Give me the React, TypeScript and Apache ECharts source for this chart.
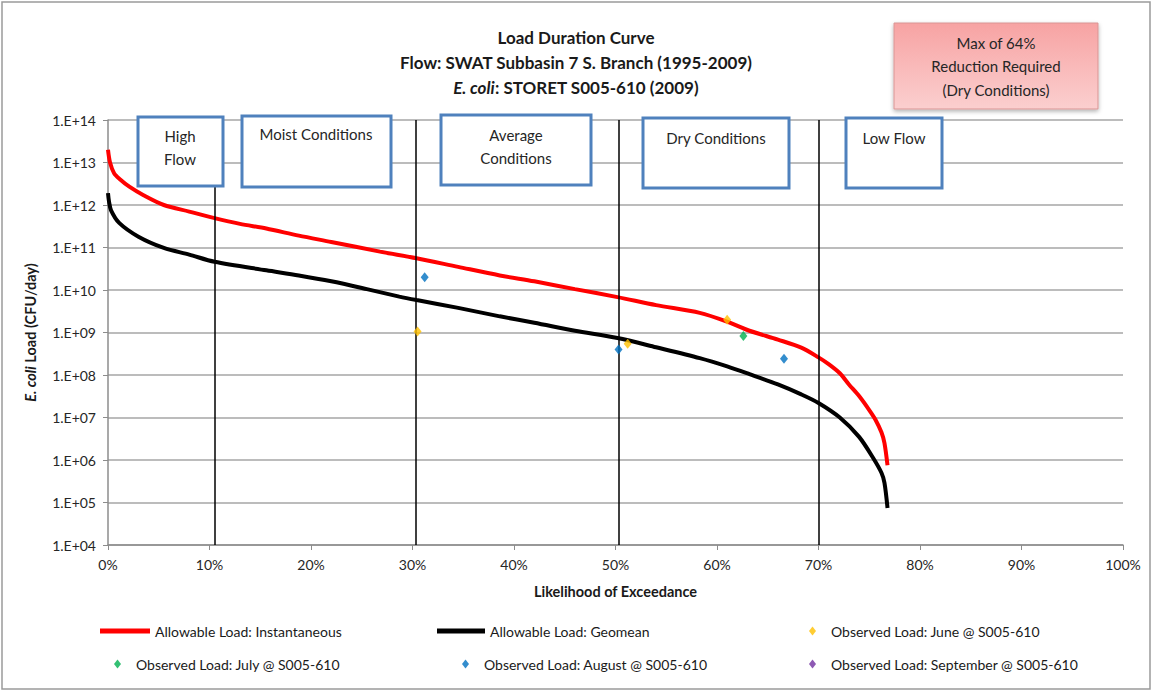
import React, { useEffect, useRef } from "react";
import * as echarts from "echarts";

// ---- Data ----
const instX = [0, 0.2, 0.6, 1.2, 2.1, 3.5, 5.5, 8, 10.5, 13, 15.6, 18.8, 22, 26.8, 30.4, 34.5, 38.6, 42, 46, 50.2, 54, 58.3, 61, 63.2, 66, 68.3, 70, 71, 72.1, 73, 74, 75, 75.6, 76.2, 76.5, 76.8];
const instLoad = [2.0e13, 1.0e13, 5.6e12, 4.0e12, 2.7e12, 1.7e12, 1.0e12, 7e11, 4.9e11, 3.6e11, 2.8e11, 1.9e11, 1.35e11, 8e10, 5.6e10, 3.5e10, 2.2e10, 1.6e10, 1.05e10, 6.8e9, 4.4e9, 2.9e9, 1.8e9, 1.1e9, 6.8e8, 4.4e8, 2.6e8, 1.8e8, 1.1e8, 6e7, 3.2e7, 1.5e7, 9e6, 4.5e6, 2.5e6, 7.5e5];
const geoX = [0, 0.1, 0.3, 1.1, 3, 5.5, 8, 10.5, 15.6, 18.8, 22, 25.5, 28.7, 30.4, 34.5, 38.6, 42, 46, 50.2, 54, 58.3, 61, 63.2, 66, 68.3, 70, 72.1, 74, 75.4, 76.2, 76.5, 76.8];
const geoLoad = [1.9e12, 1.2e12, 7.5e11, 3.8e11, 1.8e11, 9.8e10, 6.8e10, 4.6e10, 2.9e10, 2.2e10, 1.6e10, 1.05e10, 7e9, 5.8e9, 3.8e9, 2.4e9, 1.7e9, 1.1e9, 7.4e8, 4.5e8, 2.5e8, 1.6e8, 1.05e8, 6e7, 3.5e7, 2.2e7, 1e7, 3.5e6, 1.1e6, 5e5, 2.9e5, 7.4e4];

const juneX = [30.5, 51.2, 61.0];
const juneLoad = [1.05e9, 5.4e8, 2.0e9];
const julyX = [62.6];
const julyLoad = [8.3e8];
const augX = [31.2, 50.3, 66.6];
const augLoad = [2.0e10, 4.0e8, 2.4e8];
const sepX: number[] = [];
const sepLoad: number[] = [];

const flowBreaks = [10.5, 30.3, 50.3, 70];

const seriesNames = [
  "Allowable Load: Instantaneous",
  "Allowable Load: Geomean",
  "Observed Load: June @ S005-610",
  "Observed Load: July @ S005-610",
  "Observed Load: August @ S005-610",
  "Observed Load: September @ S005-610",
];

const titleLines = [
  "Load Duration Curve",
  "Flow: SWAT Subbasin 7 S. Branch (1995-2009)",
  "{i|E. coli}: STORET S005-610 (2009)",
];

const zip = (xs: number[], ys: number[]) => xs.map((x, i) => [x, ys[i]]);

const FONT = "Lato, 'Open Sans', sans-serif";

export default function App() {
  const ref = useRef<HTMLDivElement>(null);
  useEffect(() => {
    if (!ref.current) return;
    const chart = echarts.init(ref.current, null, { renderer: "svg" });

    const box = (x: number, y: number, w: number, h: number) => ({
      type: "rect",
      z: 100,
      shape: { x, y, width: w, height: h },
      style: { fill: "#ffffff", stroke: "#4F81BD", lineWidth: 3 },
    });
    const txt = (x: number, y: number, text: string, extra: any = {}) => ({
      type: "text",
      z: 101,
      x,
      y,
      style: {
        text,
        fill: "#262626",
        font: `15px ${FONT}`,
        textAlign: "center",
        textVerticalAlign: "middle",
        lineHeight: 23,
        ...extra,
      },
    });

    const legendTxt = { fontFamily: FONT, fontSize: 14, color: "#1a1a1a" };
    const mkLegend = (name: string, left: number, top: number, icon: string, w: number, h: number, pad = 0) => ({
      data: [name],
      left,
      top,
      icon,
      itemWidth: w,
      itemHeight: h,
      itemGap: 0,
      padding: 0,
      selectedMode: false,
      textStyle: { ...legendTxt, padding: [0, 0, 0, pad] },
    });

    const titleFont = `bold 17px ${FONT}`;

    chart.setOption({
      animation: false,
      backgroundColor: "#ffffff",
      textStyle: { fontFamily: FONT },
      grid: { left: 108, right: 30, top: 120, bottom: 147, containLabel: false },
      xAxis: {
        type: "value",
        min: 0,
        max: 100,
        interval: 10,
        name: "Likelihood of Exceedance",
        nameLocation: "middle",
        nameGap: 39,
        nameTextStyle: { fontFamily: FONT, fontSize: 14.5, fontWeight: "bold", color: "#1a1a1a" },
        axisLine: { lineStyle: { color: "#8c8c8c", width: 1.5 } },
        axisTick: { show: true, length: 5, lineStyle: { color: "#8c8c8c" } },
        axisLabel: { formatter: "{value}%", fontFamily: FONT, fontSize: 14, color: "#262626", margin: 12 },
        splitLine: { show: false },
      },
      yAxis: {
        type: "log",
        logBase: 10,
        min: 1e4,
        max: 1e14,
        interval: 1,
        name: "{i|E. coli} Load (CFU/day)",
        nameLocation: "middle",
        nameGap: 70,
        nameRotate: 90,
        nameTextStyle: {
          fontFamily: FONT,
          fontSize: 14.5,
          fontWeight: "bold",
          color: "#1a1a1a",
          rich: { i: { fontFamily: FONT, fontSize: 14.5, fontWeight: "bold", fontStyle: "italic", color: "#1a1a1a" } },
        },
        axisLine: { show: true, lineStyle: { color: "#8c8c8c", width: 1.5 } },
        axisTick: { show: true, length: 5, lineStyle: { color: "#8c8c8c" } },
        axisLabel: {
          fontFamily: FONT,
          fontSize: 14,
          color: "#262626",
          margin: 12,
          formatter: (v: number) => {
            const e = Math.round(Math.log10(v));
            return "1.E+" + String(e).padStart(2, "0");
          },
        },
        splitLine: { show: true, lineStyle: { color: "#a6a6a6", width: 1.5 } },
      },
      legend: [
        mkLegend(seriesNames[0], 100, 624, "rect", 50, 5),
        mkLegend(seriesNames[1], 437, 624, "rect", 48, 5),
        mkLegend(seriesNames[2], 809, 624, "diamond", 7, 9, 10),
        mkLegend(seriesNames[3], 114, 657, "diamond", 7, 9, 10),
        mkLegend(seriesNames[4], 462, 657, "diamond", 7, 9, 10),
        mkLegend(seriesNames[5], 809, 657, "diamond", 7, 9, 10),
      ],
      series: [
        {
          name: seriesNames[0],
          type: "line",
          data: zip(instX, instLoad),
          showSymbol: false,
          smooth: 0.3,
          lineStyle: { color: "#FF0000", width: 4 },
          itemStyle: { color: "#FF0000" },
          z: 3,
          markLine: {
            silent: true,
            symbol: "none",
            label: { show: false },
            lineStyle: { color: "#000000", width: 1.5, type: "solid" },
            data: flowBreaks.map((x) => ({ xAxis: x })),
          },
        },
        {
          name: seriesNames[1],
          type: "line",
          data: zip(geoX, geoLoad),
          showSymbol: false,
          smooth: 0.3,
          lineStyle: { color: "#000000", width: 4 },
          itemStyle: { color: "#000000" },
          z: 3,
        },
        { name: seriesNames[2], type: "scatter", symbol: "diamond", symbolSize: [8, 10], data: zip(juneX, juneLoad), itemStyle: { color: "#FFC000" }, z: 5 },
        { name: seriesNames[3], type: "scatter", symbol: "diamond", symbolSize: [8, 10], data: zip(julyX, julyLoad), itemStyle: { color: "#00B050" }, z: 5 },
        { name: seriesNames[4], type: "scatter", symbol: "diamond", symbolSize: [8, 10], data: zip(augX, augLoad), itemStyle: { color: "#0070C0" }, z: 5 },
        { name: seriesNames[5], type: "scatter", symbol: "diamond", symbolSize: [8, 10], data: zip(sepX, sepLoad), itemStyle: { color: "#7030A0" }, z: 5 },
      ],
      graphic: [
        {
          type: "rect",
          z: 0,
          silent: true,
          shape: { x: 2, y: 2, width: 1148, height: 687 },
          style: { fill: "none", stroke: "#9a9a9a", lineWidth: 1.5 },
        },
        ...titleLines.map((t, i) => ({
          type: "text",
          z: 101,
          x: 576,
          y: 37 + i * 25,
          style: {
            text: t,
            fill: "#1a1a1a",
            font: titleFont,
            textAlign: "center",
            textVerticalAlign: "middle",
            rich: { i: { font: `italic bold 17px ${FONT}`, fill: "#1a1a1a" } },
          },
        })),
        box(138, 117, 85, 69),
        txt(180, 147, "High\nFlow"),
        box(242, 116, 149, 71),
        txt(316, 134, "Moist Conditions"),
        box(441, 115, 150, 70),
        txt(516, 146, "Average\nConditions"),
        box(643, 118, 146, 70),
        txt(716, 138, "Dry Conditions"),
        box(846, 118, 96, 70),
        txt(894, 138, "Low Flow"),
        {
          type: "rect",
          z: 100,
          shape: { x: 894, y: 23, width: 204, height: 86 },
          style: {
            fill: new echarts.graphic.LinearGradient(0, 0, 0, 1, [
              { offset: 0, color: "#F7A3A3" },
              { offset: 1, color: "#FBCFCF" },
            ]),
            stroke: "#D99594",
            lineWidth: 1,
            shadowBlur: 4,
            shadowOffsetY: 2,
            shadowColor: "rgba(0,0,0,0.3)",
          },
        },
        txt(996, 66, "Max of 64%\nReduction Required\n(Dry Conditions)", { lineHeight: 23.5 }),
      ],
    });
    return () => chart.dispose();
  }, []);

  return (
    <div
      ref={ref}
      style={{ position: "fixed", left: 0, top: 0, width: 1153, height: 692 }}
    />
  );
}
